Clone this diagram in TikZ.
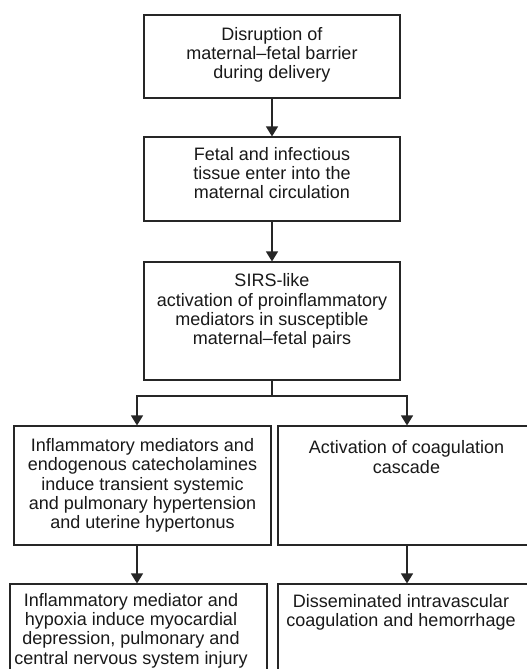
\documentclass[tikz,border=0pt]{standalone}
\usepackage{fontspec}
\setmainfont{Liberation Sans}
\usetikzlibrary{arrows.meta}
\begin{document}
\begin{tikzpicture}[x=1pt,y=-1pt,
  boxshape/.style={draw=black!85,line width=1.1pt,rectangle,inner sep=0pt},
  txt/.style={align=center,inner sep=0pt,text=black!90,font=\fontsize{18}{19.3}\selectfont},
  arr/.style={draw=black!85,line width=1.1pt,-{Triangle[width=12pt,length=10pt]}},
  ln/.style={draw=black!85,line width=1.1pt}]
\useasboundingbox (0,0) rectangle (527,669);
\clip (0,0) rectangle (527,669);
\fill[white] (0,0) rectangle (527,669);
% boxes
\node[boxshape,minimum width=256pt,minimum height=83pt] (b1) at (272,56.5) {};
\node[boxshape,minimum width=256pt,minimum height=84pt] (b2) at (272,179) {};
\node[boxshape,minimum width=256pt,minimum height=118pt] (b3) at (272,321) {};
\node[boxshape,minimum width=257pt,minimum height=119pt] (b4) at (142.5,485.5) {};
\node[boxshape,minimum width=258pt,minimum height=119pt] (b5) at (407,485.5) {};
\node[boxshape,minimum width=257pt,minimum height=120pt] (b6) at (138.5,644) {};
\node[boxshape,minimum width=258pt,minimum height=120pt] (b7) at (407,644) {};
% texts
\node[txt] (t1) at (272,55) {Disruption of\\maternal--fetal barrier\\during delivery};
\node[txt] (t2) at (272,173) {Fetal and infectious\\tissue enter into the\\maternal circulation};
\node[txt] (t3) at (272,311) {SIRS-like\\activation of proinflammatory\\mediators in susceptible\\maternal--fetal pairs};
\node[txt] (t4) at (142.5,485.5) {Inflammatory mediators and\\endogenous catecholamines\\induce transient systemic\\and pulmonary hypertension\\and uterine hypertonus};
\node[txt] (t5) at (406.5,457) {Activation of coagulation\\cascade};
\node[txt] (t6) at (131,630.5) {Inflammatory mediator and\\hypoxia induce myocardial\\depression, pulmonary and\\central nervous system injury};
\node[txt] (t7) at (401,612) {Disseminated intravascular\\coagulation and hemorrhage};
% connectors
\coordinate (jc) at (272,396);
\coordinate (jl) at (137,396);
\coordinate (jr) at (407,396);
\draw[arr] (b1.south) -- (b2.north);
\draw[arr] (b2.south) -- (b3.north);
\draw[ln] (b3.south) -- (jc);
\draw[arr] (jc) -- (jl) -- (jl |- b4.north);
\draw[arr] (jc) -- (jr) -- (jr |- b5.north);
\draw[arr] (jl |- b4.south) -- (jl |- b6.north);
\draw[arr] (jr |- b5.south) -- (jr |- b7.north);
\end{tikzpicture}
\end{document}
